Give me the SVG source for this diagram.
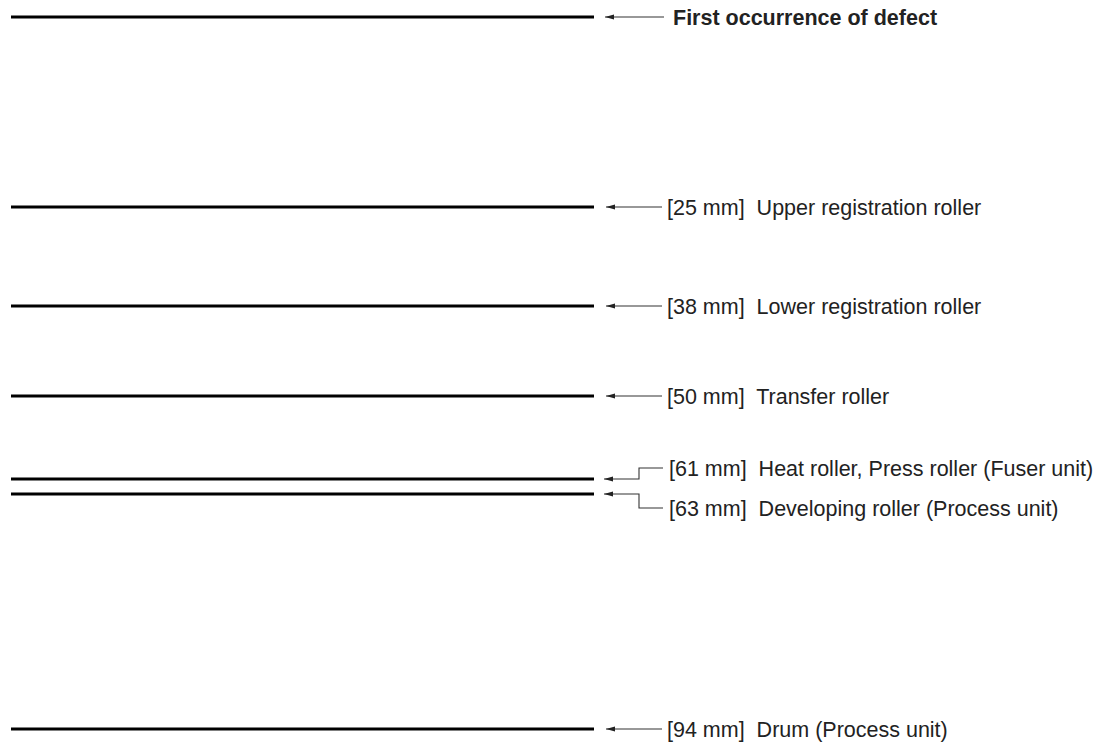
<svg xmlns="http://www.w3.org/2000/svg" width="1099" height="742" viewBox="0 0 1099 742">
<defs>
<marker id="ah" viewBox="0 0 9 6" refX="0" refY="3" markerWidth="9" markerHeight="6" markerUnits="userSpaceOnUse" orient="auto">
<path d="M0,3 L9,0.6 L9,5.4 Z" fill="#222"/>
</marker>
<style>
.band{stroke:#000;stroke-width:3;fill:none}
.lead{stroke:#333;stroke-width:1.1;fill:none}
.lbl{font-family:"Liberation Sans",Arial,sans-serif;font-size:21.5px;fill:#222;white-space:pre}
.b{font-weight:bold}
</style>
</defs>
<g id="bands">
<line class="band" x1="11" y1="17" x2="594" y2="17"/>
<line class="band" x1="11" y1="207" x2="594" y2="207"/>
<line class="band" x1="11" y1="306" x2="594" y2="306"/>
<line class="band" x1="11" y1="396" x2="594" y2="396"/>
<line class="band" x1="11" y1="479" x2="594" y2="479"/>
<line class="band" x1="11" y1="494" x2="594" y2="494"/>
<line class="band" x1="11" y1="729" x2="594" y2="729"/>
</g>
<g id="connectors">
<path class="lead" marker-start="url(#ah)" d="M605,17 H664"/>
<path class="lead" marker-start="url(#ah)" d="M606,207 H662"/>
<path class="lead" marker-start="url(#ah)" d="M606,306 H662"/>
<path class="lead" marker-start="url(#ah)" d="M606,396 H662"/>
<path class="lead" marker-start="url(#ah)" d="M604,479 H639 V468 H663"/>
<path class="lead" marker-start="url(#ah)" d="M604,494 H639 V508 H663"/>
<path class="lead" marker-start="url(#ah)" d="M606,729 H662"/>
</g>
<g id="label-first"><text class="lbl b" x="673" y="25">First occurrence of defect</text></g>
<g id="label-25"><text class="lbl" x="667" y="215" xml:space="preserve">[25 mm]  Upper registration roller</text></g>
<g id="label-38"><text class="lbl" x="667" y="314" xml:space="preserve">[38 mm]  Lower registration roller</text></g>
<g id="label-50"><text class="lbl" x="667" y="404" xml:space="preserve">[50 mm]  Transfer roller</text></g>
<g id="label-61"><text class="lbl" x="669" y="476" xml:space="preserve">[61 mm]  Heat roller, Press roller (Fuser unit)</text></g>
<g id="label-63"><text class="lbl" x="669" y="516" xml:space="preserve">[63 mm]  Developing roller (Process unit)</text></g>
<g id="label-94"><text class="lbl" x="667" y="737" xml:space="preserve">[94 mm]  Drum (Process unit)</text></g>
</svg>
